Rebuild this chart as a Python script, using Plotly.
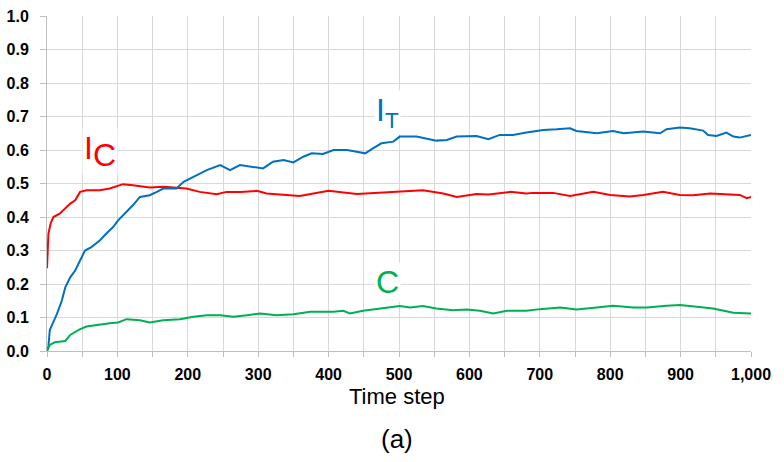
import plotly.graph_objects as go

# ---- data ----
ic_t = [0, 2, 5, 9, 18, 26, 33, 40, 47, 56, 75, 89, 108, 122, 146, 166, 198, 217, 241, 255,
        275, 298, 312, 359, 400, 440, 474, 501, 534, 563, 582, 610, 627, 658, 681, 690, 719, 743, 757, 776,
        800, 828, 847, 875, 899, 918, 942, 965, 984, 994, 1000]
ic_v = [0.247, 0.35, 0.38, 0.40, 0.41, 0.425, 0.44, 0.45, 0.475, 0.48, 0.48, 0.485, 0.498, 0.495, 0.488, 0.49, 0.485, 0.475, 0.468, 0.475,
        0.475, 0.478, 0.47, 0.463, 0.478, 0.469, 0.473, 0.475, 0.48, 0.47, 0.46, 0.469, 0.467, 0.475, 0.47, 0.472, 0.472, 0.463, 0.469, 0.475,
        0.466, 0.461, 0.466, 0.475, 0.466, 0.465, 0.47, 0.469, 0.466, 0.456, 0.46]

it_t = [0, 2, 4, 14, 21, 26, 33, 40, 47, 54, 63, 75, 85, 94, 101, 113, 122, 132, 146, 156,
        165, 184, 194, 208, 227, 246, 260, 274, 293, 307, 321, 336, 350, 364, 376, 392, 407, 426, 440, 452,
        463, 475, 492, 501, 525, 539, 553, 568, 582, 610, 627, 643, 662, 681, 705, 724, 743, 752, 781, 804,
        819, 847, 871, 880, 899, 913, 932, 939, 951, 965, 975, 984, 1000]
it_v = [0, 0.013, 0.063, 0.11, 0.15, 0.19, 0.22, 0.24, 0.27, 0.30, 0.31, 0.33, 0.352, 0.37, 0.39, 0.415, 0.435, 0.46, 0.465, 0.475,
        0.485, 0.485, 0.505, 0.52, 0.54, 0.555, 0.54, 0.555, 0.55, 0.545, 0.565, 0.57, 0.563, 0.58, 0.59, 0.588, 0.60, 0.60, 0.595, 0.59,
        0.605, 0.62, 0.625, 0.64, 0.64, 0.635, 0.628, 0.63, 0.64, 0.642, 0.632, 0.645, 0.645, 0.652, 0.66, 0.662, 0.665, 0.657, 0.65, 0.657,
        0.65, 0.655, 0.65, 0.662, 0.667, 0.665, 0.658, 0.645, 0.642, 0.652, 0.64, 0.637, 0.645]

c_t = [0, 4, 11, 26, 33, 45, 56, 71, 89, 101, 113, 132, 146, 165, 189, 208, 227, 246, 265, 284,
       303, 326, 350, 374, 407, 421, 430, 449, 473, 501, 516, 534, 553, 577, 596, 615, 634, 653, 681, 700,
       729, 752, 781, 804, 833, 852, 880, 899, 923, 946, 975, 1000]
c_v = [0, 0.018, 0.026, 0.03, 0.048, 0.063, 0.073, 0.078, 0.083, 0.085, 0.095, 0.092, 0.085, 0.092, 0.095, 0.102, 0.107, 0.107, 0.102, 0.107,
       0.112, 0.107, 0.11, 0.117, 0.117, 0.12, 0.112, 0.12, 0.127, 0.134, 0.13, 0.134, 0.127, 0.122, 0.124, 0.12, 0.112, 0.12, 0.12, 0.125,
       0.13, 0.124, 0.13, 0.135, 0.13, 0.13, 0.135, 0.137, 0.132, 0.127, 0.114, 0.112]

RED = "#FF0000"
BLUE = "#0070C0"
GREEN = "#00B050"
GRID = "#D9D9D9"
AXIS = "#BFBFBF"

fig = go.Figure()
fig.add_trace(go.Scatter(x=ic_t, y=ic_v, mode="lines", line=dict(color=RED, width=2), name="IC"))
fig.add_trace(go.Scatter(x=it_t, y=it_v, mode="lines", line=dict(color=BLUE, width=2), name="IT"))
fig.add_trace(go.Scatter(x=c_t, y=c_v, mode="lines", line=dict(color=GREEN, width=2), name="C"))

tickfont = dict(family="Liberation Sans", size=16, color="#000000", weight="bold")

fig.update_layout(
    width=784, height=462,
    margin=dict(l=47, r=33, t=16, b=111),
    paper_bgcolor="white", plot_bgcolor="white",
    showlegend=False,
    xaxis=dict(
        range=[0, 1000], tickmode="linear", tick0=0, dtick=100, tickformat=",d",
        showgrid=True, gridcolor=GRID, gridwidth=1,
        minor=dict(dtick=50, showgrid=True, gridcolor=GRID, ticks="outside", ticklen=5, tickcolor=AXIS),
        ticks="outside", ticklen=5, tickcolor=AXIS,
        showline=True, linecolor=AXIS, linewidth=1,
        zeroline=False, automargin=False,
        ticklabelstandoff=4,
        tickfont=tickfont,
    ),
    yaxis=dict(
        range=[0, 1.0], tickmode="linear", tick0=0, dtick=0.1, tickformat=".1f",
        showgrid=True, gridcolor=GRID, gridwidth=1,
        ticks="outside", ticklen=6, tickcolor=AXIS,
        showline=True, linecolor=AXIS, linewidth=1,
        zeroline=False, automargin=False,
        ticklabelstandoff=8,
        tickfont=tickfont,
    ),
)

fig.add_annotation(x=0.497, y=-0.137, xref="paper", yref="paper", xanchor="center", yanchor="middle",
                   text="Time step", showarrow=False,
                   font=dict(family="Liberation Sans", size=22, color="#000000"))
fig.add_annotation(x=0.497, y=-0.262, xref="paper", yref="paper", xanchor="center", yanchor="middle",
                   text="(a)", showarrow=False,
                   font=dict(family="Liberation Sans", size=26, color="#000000"))

fig.add_annotation(x=75, y=0.597, xref="x", yref="y", xanchor="center", yanchor="middle",
                   text="I<sub><span style='font-size:32px'>C</span></sub>",
                   showarrow=False, bgcolor="white",
                   font=dict(family="Liberation Sans", size=32, color=RED))
fig.add_annotation(x=484, y=0.713, xref="x", yref="y", xanchor="center", yanchor="middle",
                   text="I<sub>T</sub>",
                   showarrow=False, bgcolor="white",
                   font=dict(family="Liberation Sans", size=32, color=BLUE))
fig.add_annotation(x=484, y=0.206, xref="x", yref="y", xanchor="center", yanchor="middle",
                   text="C", showarrow=False, bgcolor="white",
                   font=dict(family="Liberation Sans", size=32, color=GREEN))

fig.write_html("out.html", config={"displayModeBar": False},
               post_script="document.body.style.margin='0px';")
